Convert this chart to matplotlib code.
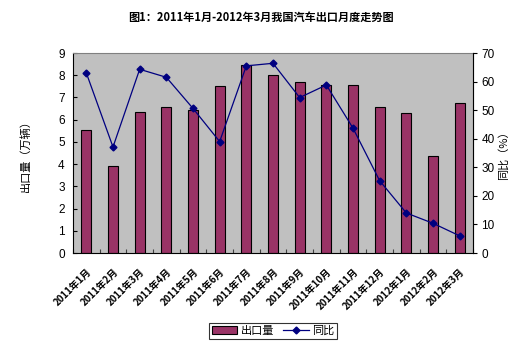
import numpy as np
import matplotlib.pyplot as plt
import matplotlib.transforms as mtrans
from matplotlib.lines import Line2D
from matplotlib.patches import Patch

plt.rcParams['font.family'] = ['Noto Sans CJK SC', 'DejaVu Sans']

months = ['2011年1月', '2011年2月', '2011年3月', '2011年4月', '2011年5月',
          '2011年6月', '2011年7月', '2011年8月', '2011年9月', '2011年10月',
          '2011年11月', '2011年12月', '2012年1月', '2012年2月', '2012年3月']
exports = [5.54, 3.93, 6.36, 6.58, 6.43, 7.50, 8.46, 8.00, 7.70, 7.57,
           7.57, 6.58, 6.31, 4.37, 6.73]
yoy = [63.0, 37.1, 64.3, 61.5, 50.6, 39.0, 65.5, 66.4, 54.4, 58.8,
       43.7, 25.3, 14.0, 10.4, 6.0]

fig = plt.figure(figsize=(5.21, 3.48), dpi=100)
ax = fig.add_axes([73 / 521, 1 - 253 / 348, 400 / 521, 200 / 348])
ax.set_facecolor('#c0c0c0')

x = np.arange(len(months))
ax.bar(x, exports, width=0.38, color='#993366', edgecolor='black', linewidth=0.8, zorder=2)
ax.set_xlim(-0.5, len(months) - 0.5)
ax.set_ylim(0, 9)
ax.set_yticks(range(10))
ax.set_xticks(np.arange(len(months) + 1) - 0.5)
ax.set_xticklabels([])
ax.set_xticks(x, minor=True)
ax.set_xticklabels(months, minor=True, rotation=45, ha='right', va='top',
                   fontsize=7, fontweight='bold', rotation_mode='anchor')
# nudge the slanted month labels a little to the left
shift = mtrans.ScaledTranslation(-8 / 100, 0, fig.dpi_scale_trans)
for lbl in ax.get_xticklabels(minor=True):
    lbl.set_transform(lbl.get_transform() + shift)
ax.tick_params(axis='x', which='major', direction='in', length=3, color='#404040')
ax.tick_params(axis='x', which='minor', length=0, pad=10)
ax.tick_params(axis='y', direction='in', length=3, labelsize=8.5, pad=6)
for lbl in ax.get_yticklabels():
    lbl.set_family('Liberation Sans')
for s in ax.spines.values():
    s.set_color('#808080')
ax.spines['bottom'].set_color('black')
ax.spines['left'].set_color('black')
ax.set_ylabel('出口量（万辆）', fontsize=8, va='center')
ax.yaxis.set_label_coords(-0.118, 0.5)

ax2 = ax.twinx()
ax2.plot(x, yoy, color='#000080', marker='D', markersize=3.5, linewidth=0.9, zorder=3)
ax2.set_ylim(0, 70)
ax2.set_yticks(range(0, 71, 10))
ax2.tick_params(axis='y', direction='out', length=3, labelsize=8.5, pad=3)
for lbl in ax2.get_yticklabels():
    lbl.set_family('Liberation Sans')
for s in ax2.spines.values():
    s.set_visible(False)
ax2.spines['right'].set_visible(True)
ax2.spines['right'].set_color('black')
ax2.set_ylabel('同比（%）', fontsize=8, rotation=90, va='center')
ax2.yaxis.set_label_coords(1.075, 0.5)

fig.suptitle('图1：2011年1月-2012年3月我国汽车出口月度走势图', y=1 - 17 / 348,
             fontsize=8, fontweight='bold', va='center')

handles = [Patch(facecolor='#993366', edgecolor='black', linewidth=0.8),
           Line2D([], [], color='#000080', marker='D', markersize=3.5, linewidth=0.9)]
leg = fig.legend(handles, ['出口量', '同比'], loc='center', bbox_to_anchor=(273 / 521, 1 - 331 / 348),
                 ncol=2, fontsize=8, frameon=True, fancybox=False, handlelength=2.3,
                 handletextpad=0.3, columnspacing=0.8, borderpad=0.3)
leg.get_frame().set_edgecolor('black')
leg.get_frame().set_linewidth(0.8)

fig.savefig('out.png', dpi=100)
